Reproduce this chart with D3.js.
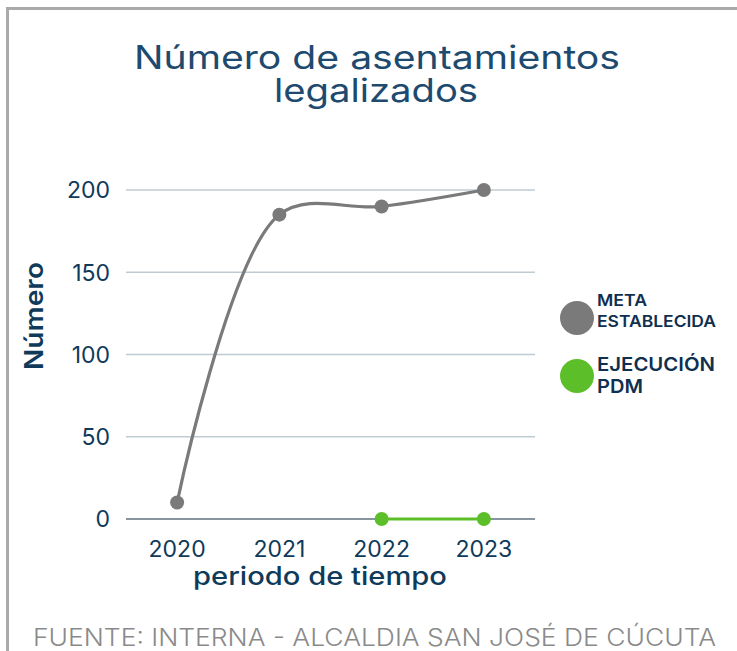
<!DOCTYPE html>
<meta charset="utf-8">
<style>
body { margin: 0; background: #fff; font-family: Inter, "Noto Sans", sans-serif; }
svg { display: block; }
</style>
<body>
<script src="https://d3js.org/d3.v7.min.js"></script>
<script>

var width = 737, height = 651;

var years = ["2020", "2021", "2022", "2023"];
var meta = [10, 185, 190, 200];
var ejecucion = [null, null, 0, 0];
var yTicks = [0, 50, 100, 150, 200];
var legendLabels = [["META", "ESTABLECIDA"], ["EJECUCIÓN", "PDM"]];
var colors = ["#7a7a7a", "#5cbf2a"];

var svg = d3.select("body").append("svg")
    .attr("width", width)
    .attr("height", height);

// frame (top + left only)
svg.append("path")
    .attr("d", "M7.5,651 L7.5,8.5 L737,8.5")
    .attr("fill", "none")
    .attr("stroke", "#aaaaaa")
    .attr("stroke-width", 3);

// title
var title = svg.append("text")
    .attr("text-anchor", "middle")
    .attr("fill", "#1d4a6e")
    .style("font-size", "32px");
title.append("tspan").attr("x", 377).attr("y", 69)
  .attr("textLength", 486).attr("lengthAdjust", "spacingAndGlyphs")
  .text("Número de asentamientos");
title.append("tspan").attr("x", 376).attr("y", 102)
  .attr("textLength", 204).attr("lengthAdjust", "spacingAndGlyphs")
  .text("legalizados");

var x = d3.scalePoint().domain(years).range([126, 535]).padding(0.5);
var y = d3.scaleLinear().domain([0, 200]).range([519, 190]);

// gridlines
svg.append("g").selectAll("line")
  .data(yTicks)
  .enter().append("line")
  .attr("x1", 126).attr("x2", 535)
  .attr("y1", function(d){ return y(d); })
  .attr("y2", function(d){ return y(d); })
  .attr("stroke", function(d){ return d === 0 ? "#5e7280" : "#bfcbd3"; })
  .attr("stroke-width", 1.3);

// y labels
svg.append("g").selectAll("text")
  .data(yTicks)
  .enter().append("text")
  .attr("x", 110)
  .attr("y", function(d){ return y(d); })
  .attr("dy", "0.36em")
  .attr("text-anchor", "end")
  .attr("fill", "#0f3a5a")
  .style("font-size", "23px")
  .text(function(d){ return d; });

// x labels
svg.append("g").selectAll("text")
  .data(years)
  .enter().append("text")
  .attr("x", function(d){ return x(d); })
  .attr("y", 557)
  .attr("text-anchor", "middle")
  .attr("fill", "#0f3a5a")
  .style("font-size", "23px")
  .text(function(d){ return d; });

// axis titles
svg.append("text")
  .attr("x", 320).attr("y", 585)
  .attr("text-anchor", "middle")
  .attr("fill", "#0f3a5a")
  .style("font-size", "25px")
  .style("font-weight", 500)
  .attr("textLength", 254).attr("lengthAdjust", "spacingAndGlyphs")
  .text("periodo de tiempo");

svg.append("text")
  .attr("transform", "translate(43,316) rotate(-90)")
  .attr("text-anchor", "middle")
  .attr("fill", "#0f3a5a")
  .style("font-size", "25px")
  .style("font-weight", 600)
  .attr("textLength", 108).attr("lengthAdjust", "spacingAndGlyphs")
  .text("Número");

// series
var series = [meta, ejecucion];
var line = d3.line()
  .defined(function(d){ return d != null; })
  .x(function(d, i){ return x(years[i]); })
  .y(function(d){ return y(d); })
  .curve(d3.curveCatmullRom.alpha(0.5));

series.forEach(function(s, k){
  svg.append("path")
    .attr("d", line(s))
    .attr("fill", "none")
    .attr("stroke", colors[k])
    .attr("stroke-width", 3.2);
  svg.append("g").selectAll("circle")
    .data(s.map(function(v, i){ return {v: v, i: i}; }).filter(function(d){ return d.v != null; }))
    .enter().append("circle")
    .attr("cx", function(d){ return x(years[d.i]); })
    .attr("cy", function(d){ return y(d.v); })
    .attr("r", 7)
    .attr("fill", colors[k]);
});

// legend
var legendWidths = [[50, 119], [118, 46]];
var lg = svg.append("g").selectAll("g")
  .data(legendLabels)
  .enter().append("g")
  .attr("transform", function(d, i){ return "translate(577," + (318 + i * 58) + ")"; });
lg.append("circle")
  .attr("r", 17)
  .attr("fill", function(d, i){ return colors[i]; });
lg.each(function(d, i){
  var t = d3.select(this).append("text")
    .attr("fill", "#0f3050")
    .style("font-weight", 600)
    .style("font-size", i === 0 ? "16px" : "19px");
  d.forEach(function(s, j){
    t.append("tspan")
      .attr("x", 20)
      .attr("y", i === 0 ? (j === 0 ? -12 : 9) : (j === 0 ? -5 : 17))
      .attr("textLength", legendWidths[i][j]).attr("lengthAdjust", "spacingAndGlyphs")
      .text(s);
  });
});

// footer
svg.append("text")
  .attr("x", 33).attr("y", 646)
  .attr("fill", "#8a8a8a")
  .style("font-size", "24px")
  .style("font-weight", 300)
  .attr("textLength", 683).attr("lengthAdjust", "spacingAndGlyphs")
  .text("FUENTE: INTERNA - ALCALDIA SAN JOSÉ DE CÚCUTA");

</script>
